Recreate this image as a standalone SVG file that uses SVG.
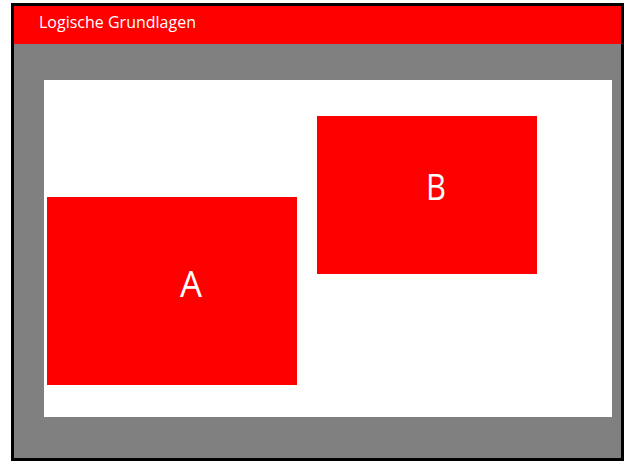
<svg xmlns="http://www.w3.org/2000/svg" width="625" height="461" viewBox="0 0 625 461">
<style>
.box{fill:#ff0000}
.lbl{fill:#ffffff;font-family:"Open Sans","Liberation Sans",sans-serif;font-size:36px;text-anchor:middle}
.hdr{fill:#ffffff;font-family:"Open Sans","Liberation Sans",sans-serif;font-size:15.5px}
</style>
<rect x="0" y="0" width="625" height="461" fill="#ffffff"/>
<rect x="12.5" y="4.5" width="610" height="455" fill="#808080" stroke="#000000" stroke-width="3"/>
<rect x="14" y="6" width="607" height="38" fill="#ff0000"/>
<text class="hdr" x="39" y="28" textLength="157" lengthAdjust="spacingAndGlyphs">Logische Grundlagen</text>
<rect x="44" y="80" width="568" height="337" fill="#ffffff"/>
<g id="nodeA">
<rect class="box" x="47" y="197" width="250" height="188"/>
<text class="lbl" x="191" y="297" textLength="22" lengthAdjust="spacingAndGlyphs">A</text>
</g>
<g id="nodeB">
<rect class="box" x="317" y="116" width="220" height="158"/>
<text class="lbl" x="436" y="200" textLength="20" lengthAdjust="spacingAndGlyphs">B</text>
</g>
<g id="connectors"></g>
</svg>
